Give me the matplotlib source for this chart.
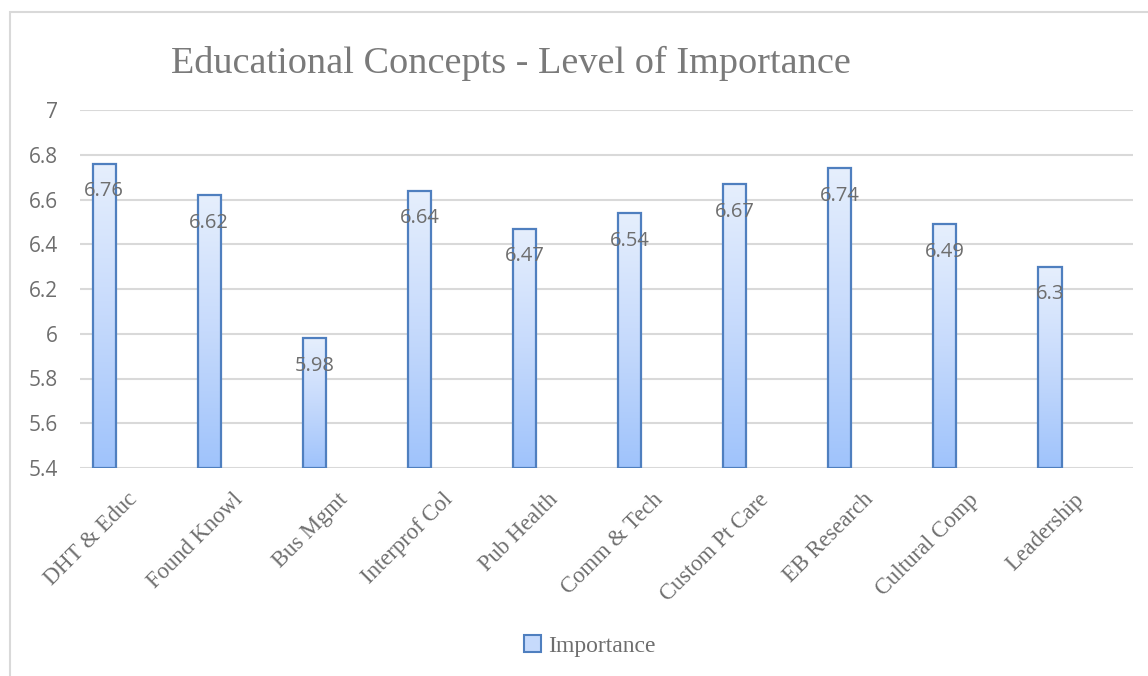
import numpy as np
import matplotlib.pyplot as plt
from matplotlib.colors import LinearSegmentedColormap
from matplotlib.patches import Rectangle, Patch
from matplotlib.transforms import ScaledTranslation

categories = ['DHT & Educ', 'Found Knowl', 'Bus Mgmt', 'Interprof Col', 'Pub Health',
              'Comm & Tech', 'Custom Pt Care', 'EB Research', 'Cultural Comp', 'Leadership']
importance = [6.76, 6.62, 5.98, 6.64, 6.47, 6.54, 6.67, 6.74, 6.49, 6.3]
y_ticks = [5.4, 5.6, 5.8, 6.0, 6.2, 6.4, 6.6, 6.8, 7.0]
y_tick_labels = ['5.4', '5.6', '5.8', '6', '6.2', '6.4', '6.6', '6.8', '7']

TEXT_GRAY = '#6e6e6e'
EDGE = '#4f7fbf'
grad = LinearSegmentedColormap.from_list('bar_grad', ['#9fc3fb', '#c6dafc', '#e6effd'])

fig = plt.figure(figsize=(11.48, 6.76), dpi=100)
ax = fig.add_axes([80 / 1148, 208 / 676, 1053 / 1148, 358 / 676])

# light frame around the chart
fig.patches.append(Rectangle((10 / 1148, -0.01), 1.0, 1 - 12 / 676 + 0.01,
                             transform=fig.transFigure, fill=False,
                             edgecolor='#d9d9d9', linewidth=1.5, zorder=0))

x = np.arange(len(categories))
width = 0.22
y_min, y_max = 5.4, 7.0

bars = ax.bar(x, np.array(importance) - y_min, width=width, bottom=y_min,
              facecolor='none', edgecolor=EDGE, linewidth=1.6, zorder=3)

# gradient fill inside each bar
g = np.linspace(0, 1, 256).reshape(-1, 1)
for b in bars:
    x0, y0 = b.get_x(), b.get_y()
    ax.imshow(g, extent=[x0, x0 + b.get_width(), y0, y0 + b.get_height()],
              origin='lower', aspect='auto', cmap=grad, zorder=2)

for xi, v in zip(x, importance):
    ax.annotate(f'{v:g}', (xi, v), xytext=(0, -20), textcoords='offset points',
                ha='center', va='center', fontsize=14.5, color=TEXT_GRAY,
                family='Open Sans', zorder=4)

ax.set_xlim(-0.23, 9.79)
ax.set_ylim(y_min, y_max)
ax.set_yticks(y_ticks)
ax.set_yticklabels(y_tick_labels, family='Open Sans', fontsize=15, color=TEXT_GRAY)
ax.set_xticks(x)
ax.set_xticklabels(categories, rotation=45, ha='right', rotation_mode='anchor',
                   family='Liberation Serif', fontsize=16.3, color=TEXT_GRAY)
ax.tick_params(axis='both', length=0)
ax.tick_params(axis='y', pad=16)
ax.tick_params(axis='x', pad=8)
shift = ScaledTranslation(0.23, -0.10, fig.dpi_scale_trans)
for lab in ax.get_xticklabels():
    lab.set_transform(lab.get_transform() + shift)
ax.grid(axis='y', color='#d9d9d9', linewidth=1.5, zorder=0)
ax.set_axisbelow(True)
for s in ax.spines.values():
    s.set_visible(False)

fig.text(511 / 1148, 1 - 63 / 676, 'Educational Concepts - Level of Importance',
         ha='center', va='center', family='Liberation Serif', fontsize=27.5, color='#7a7a7a')

handle = Patch(facecolor='#c6dafc', edgecolor=EDGE, linewidth=1.5)
fig.legend([handle], ['Importance'], loc='center', bbox_to_anchor=(590 / 1148, 1 - 646 / 676),
           frameon=False, handlelength=0.7, handleheight=0.7, handletextpad=0.3,
           prop={'family': 'Liberation Serif', 'size': 17}, labelcolor=TEXT_GRAY)

fig.savefig('out.png', dpi=100)
